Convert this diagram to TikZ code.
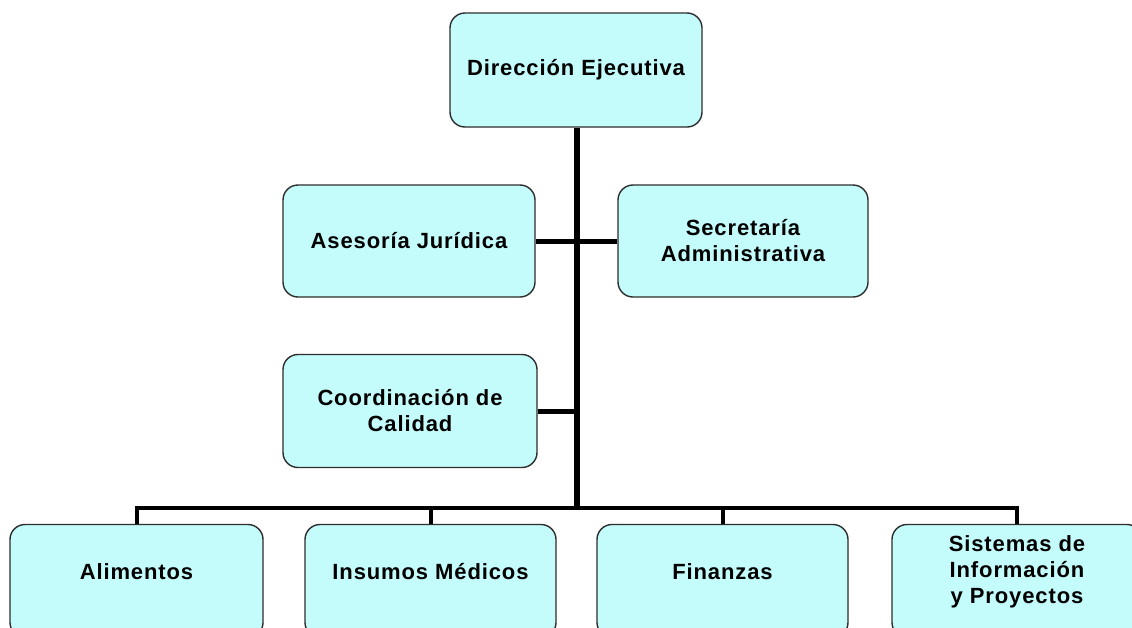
\documentclass[tikz,border=0pt]{standalone}
\usepackage{fontspec}
\newfontfamily\lblfont[LetterSpace=4]{Liberation Sans}
\usetikzlibrary{calc}
\definecolor{boxfill}{RGB}{196,252,252}
\definecolor{boxline}{RGB}{45,45,45}
\begin{document}
\begin{tikzpicture}[x=1pt,y=-1pt,
  box/.style={draw=boxline, line width=1.4pt, fill=boxfill, rounded corners=15pt,
    inner sep=0pt, align=center, font=\lblfont\bfseries\fontsize{22}{26}\selectfont},
  lbl/.style={inner sep=0pt, align=center, font=\lblfont\bfseries\fontsize{22}{26}\selectfont},
  trunk/.style={line width=5.5pt},
  wire/.style={line width=4pt}]
\useasboundingbox (0,0) rectangle (1132,627);
\clip (0,0) rectangle (1132,627);
\fill[white] (0,0) rectangle (1132,627);
% boxes
\node[box, minimum width=252pt, minimum height=114pt] (dir) at (576,70) {Dirección Ejecutiva};
\node[box, minimum width=252pt, minimum height=112pt] (ase) at (409,241) {Asesoría Jurídica};
\node[box, minimum width=250pt, minimum height=112pt] (sec) at (743,241) {Secretaría\\Administrativa};
\node[box, minimum width=254pt, minimum height=113pt] (coo) at (410,411) {Coordinación de\\Calidad};
\node[box, minimum width=253pt, minimum height=113pt] (ali) at (136.5,581) {};
\node[box, minimum width=251pt, minimum height=113pt] (ins) at (430.5,581) {};
\node[box, minimum width=251pt, minimum height=113pt] (fin) at (722.5,581) {};
\node[box, minimum width=250pt, minimum height=113pt] (sis) at (1017,581) {};
\node[lbl] (alit) at ([yshift=9pt]ali.center) {Alimentos};
\node[lbl] (inst) at ([yshift=9pt]ins.center) {Insumos Médicos};
\node[lbl] (fint) at ([yshift=9pt]fin.center) {Finanzas};
\node[lbl] (sist) at ([yshift=9pt]sis.center) {Sistemas de\\Información\\y Proyectos};
% connectors
\coordinate (bus) at (577,508);
\draw[trunk] ([xshift=1pt]dir.south) -- (bus);
\draw[wire, line width=5pt] (ase.east) -- (sec.west);
\draw[wire, line width=5pt] (coo.east) -- (coo.east -| bus);
\draw[wire] (ali.north) |- (bus) -| (sis.north);
\draw[wire] (ins.north) -- (ins.north |- bus);
\draw[wire] (fin.north) -- (fin.north |- bus);
\end{tikzpicture}
\end{document}
